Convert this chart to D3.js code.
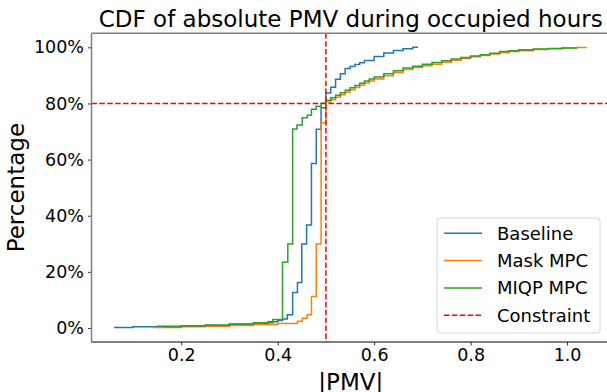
<!DOCTYPE html>
<html>
<head>
<meta charset="utf-8">
<script src="https://cdn.jsdelivr.net/npm/d3@7"></script>
<style>
  html, body { margin: 0; padding: 0; background: #fff; }
  #chart { width: 607px; height: 392px; }
  text { font-family: "DejaVu Sans", sans-serif; }
</style>
</head>
<body>
<div id="chart"></div>
<script>
// -----------------------------
// Data: step points of each CDF, |PMV| and percent
// -----------------------------
const baselineX = [0.061, 0.10, 0.15, 0.20, 0.25, 0.30, 0.35, 0.38, 0.40, 0.41, 0.42, 0.431, 0.441, 0.450, 0.460, 0.470, 0.480, 0.490, 0.500, 0.510, 0.520, 0.530, 0.540, 0.550, 0.560, 0.570, 0.580, 0.600, 0.620, 0.640, 0.660, 0.680, 0.691];
const baselineY = [0.2, 0.4, 0.6, 0.8, 1.0, 1.3, 1.7, 2.2, 2.7, 3.2, 4.7, 12.6, 16.2, 29.9, 36.7, 58.6, 70.8, 78.5, 83.7, 85.8, 88.6, 90.6, 92.5, 93.2, 93.9, 94.5, 95.3, 96.7, 98.0, 98.9, 99.5, 100, 100];

const maskX = [0.141, 0.20, 0.25, 0.30, 0.35, 0.40, 0.441, 0.451, 0.461, 0.470, 0.480, 0.490, 0.500, 0.51, 0.52, 0.53, 0.54, 0.55, 0.56, 0.57, 0.58, 0.59, 0.60, 0.62, 0.64, 0.66, 0.68, 0.70, 0.72, 0.74, 0.76, 0.78, 0.80, 0.82, 0.84, 0.86, 0.88, 0.90, 0.93, 0.96, 0.99, 1.02, 1.04];
const maskY = [0.2, 0.4, 0.6, 0.9, 1.2, 1.6, 2.4, 3.5, 4.7, 11.2, 29.9, 73.1, 80.5, 81.3, 82.2, 83.1, 84.0, 84.9, 85.7, 86.5, 87.3, 88.0, 88.7, 89.9, 91.0, 92.1, 92.8, 93.4, 94.0, 94.7, 95.4, 96.0, 96.6, 97.1, 97.6, 98.1, 98.5, 98.8, 99.2, 99.5, 99.8, 99.9, 100];

const miqpX = [0.161, 0.20, 0.25, 0.30, 0.35, 0.39, 0.410, 0.421, 0.431, 0.440, 0.451, 0.461, 0.470, 0.480, 0.490, 0.500, 0.51, 0.52, 0.53, 0.54, 0.55, 0.56, 0.57, 0.58, 0.59, 0.60, 0.62, 0.64, 0.66, 0.68, 0.70, 0.72, 0.74, 0.76, 0.78, 0.80, 0.82, 0.84, 0.86, 0.88, 0.90, 0.93, 0.96, 0.99, 1.019];
const miqpY = [0.4, 0.7, 1.0, 1.4, 1.9, 3.0, 23.4, 29.9, 70.9, 72.3, 74.9, 75.8, 77.9, 79.0, 80.1, 81.1, 82.0, 82.9, 83.8, 84.7, 85.6, 86.4, 87.2, 88.0, 88.7, 89.4, 90.6, 91.7, 92.6, 93.3, 94.0, 94.6, 95.2, 95.8, 96.4, 96.9, 97.4, 97.9, 98.5, 98.8, 99.1, 99.4, 99.6, 99.8, 100];

const seriesNames = ["Baseline", "Mask MPC", "MIQP MPC"];
const seriesColors = ["#1f77b4", "#ff7f0e", "#2ca02c"];
const xTicks = [0.2, 0.4, 0.6, 0.8, 1.0];
const yTicks = [0, 20, 40, 60, 80, 100];
const constraintX = 0.5;
const constraintY = 80;

const drawChart = () => {
  const width = 607;
  const height = 392;
  const plot = { left: 91.5, right: 610, top: 33.3, bottom: 342 };

  const svg = d3.select("#chart")
    .append("svg")
    .attr("width", width)
    .attr("height", height);

  // -----------------------------
  // Scales
  // -----------------------------
  const x = d3.scaleLinear().domain([0.014, 1.089]).range([plot.left, plot.right]);
  const y = d3.scaleLinear().domain([-5, 105]).range([plot.bottom, plot.top]);

  svg.append("clipPath").attr("id", "clip")
    .append("rect")
    .attr("x", plot.left).attr("y", plot.top)
    .attr("width", plot.right - plot.left).attr("height", plot.bottom - plot.top);

  // -----------------------------
  // Step lines
  // -----------------------------
  const series = [
    baselineX.map((v, i) => ({ x: v, y: baselineY[i] })),
    maskX.map((v, i) => ({ x: v, y: maskY[i] })),
    miqpX.map((v, i) => ({ x: v, y: miqpY[i] }))
  ];

  const line = d3.line()
    .x(d => x(d.x))
    .y(d => y(d.y))
    .curve(d3.curveStepAfter);

  const lines = svg.append("g").attr("clip-path", "url(#clip)");

  series.forEach((pts, i) => {
    lines.append("path")
      .datum(pts)
      .attr("fill", "none")
      .attr("stroke", seriesColors[i])
      .attr("stroke-width", 1.5)
      .attr("d", line);
  });

  // constraint lines
  lines.append("line")
    .attr("x1", x(constraintX)).attr("x2", x(constraintX))
    .attr("y1", plot.top).attr("y2", plot.bottom)
    .attr("stroke", "red").attr("stroke-width", 1.5)
    .attr("stroke-dasharray", "5.5,2.4");

  lines.append("line")
    .attr("x1", plot.left).attr("x2", plot.right)
    .attr("y1", y(constraintY)).attr("y2", y(constraintY))
    .attr("stroke", "red").attr("stroke-width", 1.5)
    .attr("stroke-dasharray", "5.5,2.4");

  // -----------------------------
  // Axes
  // -----------------------------
  const xAxis = svg.append("g")
    .attr("transform", `translate(0,${plot.bottom})`)
    .call(d3.axisBottom(x).tickValues(xTicks).tickFormat(d3.format(".1f")).tickSize(3.5).tickPadding(3.5));

  const yAxis = svg.append("g")
    .attr("transform", `translate(${plot.left},0)`)
    .call(d3.axisLeft(y).tickValues(yTicks).tickFormat(d => d + "%").tickSize(3.5).tickPadding(4));

  [xAxis, yAxis].forEach(a => {
    a.select(".domain").remove();
    a.selectAll("text").style("font-size", "17.5px").attr("fill", "#000");
    a.selectAll("line").attr("stroke", "#000").attr("stroke-width", 0.8);
  });

  // spines
  svg.append("line")
    .attr("x1", plot.left).attr("x2", plot.left)
    .attr("y1", plot.top).attr("y2", plot.bottom)
    .attr("stroke", "#808080").attr("stroke-width", 1.5);
  svg.append("line")
    .attr("x1", plot.left).attr("x2", plot.right)
    .attr("y1", plot.top).attr("y2", plot.top)
    .attr("stroke", "#808080").attr("stroke-width", 1.5);
  svg.append("line")
    .attr("x1", plot.left).attr("x2", plot.right)
    .attr("y1", plot.bottom).attr("y2", plot.bottom)
    .attr("stroke", "#000").attr("stroke-width", 1);

  // -----------------------------
  // Titles
  // -----------------------------
  const cx = (plot.left + plot.right) / 2;

  svg.append("text")
    .attr("x", cx).attr("y", 27)
    .attr("text-anchor", "middle")
    .style("font-size", "23px")
    .text("CDF of absolute PMV during occupied hours");

  svg.append("text")
    .attr("x", cx).attr("y", 390)
    .attr("text-anchor", "middle")
    .style("font-size", "23px")
    .text("|PMV|");

  svg.append("text")
    .attr("transform", `translate(24,${(plot.top + plot.bottom) / 2}) rotate(-90)`)
    .attr("text-anchor", "middle")
    .style("font-size", "23px")
    .text("Percentage");

  // -----------------------------
  // Legend
  // -----------------------------
  const legend = svg.append("g").attr("transform", "translate(437,218)");

  legend.append("rect")
    .attr("width", 163).attr("height", 115)
    .attr("rx", 3).attr("ry", 3)
    .attr("fill", "rgba(255,255,255,0.8)")
    .attr("stroke", "#d6d6d6");

  const entries = seriesNames.map((n, i) => ({ name: n, color: seriesColors[i], dash: null }))
    .concat([{ name: "Constraint", color: "red", dash: "5.5,2.4" }]);

  entries.forEach((e, i) => {
    const yy = 15.3 + i * 27.3;
    legend.append("line")
      .attr("x1", 7).attr("x2", 45)
      .attr("y1", yy).attr("y2", yy)
      .attr("stroke", e.color).attr("stroke-width", 1.5)
      .attr("stroke-dasharray", e.dash);
    legend.append("text")
      .attr("x", 60).attr("y", yy + 6.5)
      .style("font-size", "18px")
      .text(e.name);
  });
};

drawChart();
</script>
</body>
</html>
